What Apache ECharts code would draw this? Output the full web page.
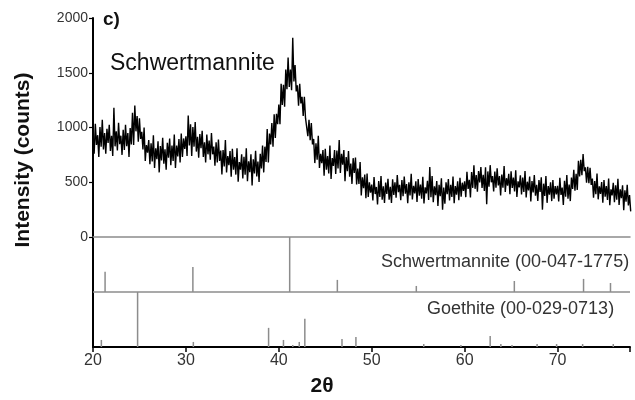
<!DOCTYPE html>
<html>
<head>
<meta charset="utf-8">
<script src="https://cdn.jsdelivr.net/npm/echarts@6/dist/echarts.min.js"></script>
<style>html,body{margin:0;padding:0;background:#fff}#c{width:635px;height:400px}</style>
</head>
<body>
<div id="c"></div>
<script>
// Scan: 2θ from 20.00 in steps of 0.25; at each step the upper and lower
// excursions of the noisy trace
const scanStart = 20.0;
const scanStep = 0.25;
const upperTrace = [
  940, 1035, 930, 1005,    // 20
  1070, 950, 988, 1025,    // 21
  925, 1180, 965, 1042,    // 22
  925, 980, 1025, 950,     // 23
  995, 1135, 1200, 1105,   // 24
  1085, 960, 1000, 840,    // 25
  885, 855, 930, 810,      // 26
  875, 830, 905, 800,      // 27
  860, 900, 835, 935,      // 28
  835, 895, 945, 900,      // 29
  920, 1110, 1030, 1005,   // 30
  1050, 915, 940, 970,     // 31
  865, 935, 880, 950,      // 32
  825, 865, 890, 790,      // 33
  795, 885, 740, 785,      // 34
  805, 730, 810, 685,      // 35
  755, 733, 810, 692,      // 36
  755, 710, 787, 688,      // 37
  760, 835, 825, 985,      // 38
  945, 1040, 1120, 1125,   // 39
  1210, 1400, 1390, 1530,  // 40
  1640, 1530, 1820, 1570,  // 41
  1385, 1400, 1280, 1280,  // 42
  1095, 1070, 1040, 895,   // 43
  855, 925, 760, 795,      // 44
  805, 740, 835, 720,      // 45
  795, 790, 885, 760,      // 46
  795, 730, 785, 670,      // 47
  720, 725, 625, 685,      // 48
  545, 570, 580, 500,      // 49
  478, 548, 457, 510,      // 50
  556, 462, 497, 532,      // 51
  458, 528, 499, 566,      // 52
  476, 520, 552, 484,      // 53
  500, 578, 467, 508,      // 54
  530, 478, 550, 454,      // 55
  514, 640, 557, 462,      // 56
  512, 476, 536, 452,      // 57
  500, 530, 477, 552,      // 58
  466, 509, 541, 496,      // 59
  508, 595, 522, 593,      // 60
  656, 565, 602, 639,      // 61
  568, 636, 599, 656,      // 62
  556, 598, 627, 556,      // 63
  570, 648, 537, 578,      // 64
  600, 543, 610, 509,      // 65
  564, 543, 602, 505,      // 66
  552, 511, 566, 477,      // 67
  520, 546, 487, 556,      // 68
  466, 500, 521, 466,      // 69
  468, 540, 452, 513,      // 70
  566, 480, 542, 614,      // 71
  578, 696, 704, 758,      // 72
  636, 640, 632, 534,      // 73
  510, 580, 462, 501,      // 74
  520, 466, 535, 436,      // 75
  494, 473, 532, 435,      // 76
  472, 426, 476, 382       // 77
];
const lowerTrace = [
  760, 840, 730, 825,      // 20
  800, 760, 858, 785,      // 21
  740, 828, 790, 847,      // 22
  750, 795, 830, 730,      // 23
  845, 840, 965, 870,      // 24
  895, 800, 695, 770,      // 25
  665, 690, 630, 710,      // 26
  590, 700, 670, 615,      // 27
  725, 655, 695, 630,      // 28
  735, 680, 730, 805,      // 29
  740, 835, 740, 825,      // 30
  780, 725, 810, 730,      // 31
  680, 755, 705, 755,      // 32
  650, 680, 695, 570,      // 33
  645, 590, 655, 550,      // 34
  615, 570, 505, 615,      // 35
  535, 568, 510, 592,      // 36
  470, 580, 552, 503,      // 37
  625, 590, 685, 680,      // 38
  845, 825, 905, 1030,     // 39
  1030, 1205, 1190, 1350,  // 40
  1370, 1340, 1420, 1330,  // 41
  1200, 1220, 1105, 1085,  // 42
  920, 885, 845, 675,      // 43
  705, 630, 675, 560,      // 44
  615, 580, 530, 650,      // 45
  575, 625, 585, 660,      // 46
  510, 600, 550, 485,      // 47
  585, 480, 485, 380,      // 48
  445, 355, 365, 405,      // 49
  334, 392, 297, 366,      // 50
  340, 310, 393, 340,      // 51
  310, 384, 359, 410,      // 52
  336, 372, 396, 308,      // 53
  380, 342, 399, 320,      // 54
  378, 350, 306, 398,      // 55
  338, 364, 317, 382,      // 56
  284, 372, 250, 304,      // 57
  392, 334, 365, 308,      // 58
  386, 337, 369, 420,      // 59
  364, 439, 362, 449,      // 60
  440, 413, 498, 447,      // 61
  420, 300, 459, 500,      // 62
  416, 450, 471, 380,      // 63
  450, 412, 469, 390,      // 64
  448, 415, 366, 453,      // 65
  388, 411, 362, 425,      // 66
  324, 407, 378, 329,      // 67
  412, 250, 375, 312,      // 68
  386, 328, 349, 390,      // 69
  324, 384, 292, 369,      // 70
  350, 328, 438, 422,      // 71
  430, 552, 564, 602,      // 72
  496, 492, 476, 358,      // 73
  390, 344, 394, 313,      // 74
  368, 338, 291, 380,      // 75
  318, 341, 292, 355,      // 76
  244, 322, 288, 234       // 77
];

// Reference pattern sticks: angle and height above their own baseline
const schwAngles  = [21.3, 30.75, 41.17, 46.3, 54.8, 65.35, 72.8, 75.7];
const schwHeights = [183, 228, 500, 110, 55, 100, 119, 82];   // baseline -500
const goetAngles  = [20.9, 24.8, 30.8, 38.9, 40.5, 41.5, 42.2, 42.8, 46.8, 48.3, 55.6, 59.6, 62.75, 63.9, 65.1, 67.8, 69.9, 72.7, 76.0];
const goetHeights = [64, 500, 46, 174, 64, 18, 46, 256, 73, 91, 27, 18, 100, 27, 18, 27, 27, 27, 27]; // baseline -1000

const yTicks = [0, 500, 1000, 1500, 2000];
const xTicks = [20, 30, 40, 50, 60, 70];

const schwBase = -500, goetBase = -1000;
const FONT = '"Liberation Sans", Arial, Helvetica, sans-serif';

const scanData = [];
upperTrace.forEach((v, i) => {
  const x = scanStart + i * scanStep;
  scanData.push([x, v]);
  scanData.push([x + scanStep / 2, lowerTrace[i]]);
});
const schwData = schwAngles.map((a, i) => [a, schwBase, schwBase + schwHeights[i]]);
const goetData = goetAngles.map((a, i) => [a, goetBase, goetBase + goetHeights[i]]);

const chart = echarts.init(document.getElementById('c'), null, {renderer: 'canvas'});

function stickItem(params, api) {
  const p1 = api.coord([api.value(0), api.value(1)]);
  const p2 = api.coord([api.value(0), api.value(2)]);
  return {type: 'line', shape: {x1: p1[0], y1: p1[1], x2: p2[0], y2: p2[1]},
          style: {stroke: '#8c8c8c', lineWidth: 1.5}};
}

chart.setOption({
  animation: false,
  backgroundColor: '#fff',
  grid: [
    {left: 93, top: 18, width: 537, height: 219},
    {left: 93, top: 237, width: 537, height: 110}
  ],
  xAxis: [
    {type: 'value', gridIndex: 0, min: 20, max: 77.8, interval: 10,
     axisLine: {show: true, onZero: false, lineStyle: {color: '#8c8c8c', width: 1.5}},
     axisTick: {show: false}, axisLabel: {show: false}, splitLine: {show: false}},
    {type: 'value', gridIndex: 1, min: 20, max: 77.8, interval: 10,
     axisLine: {show: true, onZero: false, lineStyle: {color: '#000', width: 2}},
     axisTick: {show: true, length: 5, lineStyle: {color: '#000', width: 1.5}},
     axisLabel: {show: true, fontFamily: FONT, fontSize: 16, color: '#333', margin: 6,
                 formatter: v => (xTicks.indexOf(Math.round(v * 1000) / 1000) >= 0 ? String(v) : '')},
     splitLine: {show: false}}
  ],
  yAxis: [
    {type: 'value', gridIndex: 0, min: 0, max: 2000, interval: 500,
     axisLine: {show: true, onZero: false, lineStyle: {color: '#000', width: 2}},
     axisTick: {show: true, length: 4, lineStyle: {color: '#000', width: 1.2}},
     axisLabel: {fontFamily: FONT, fontSize: 14, color: '#333', margin: 5,
                 formatter: v => (yTicks.indexOf(v) >= 0 ? String(v) : '')},
     splitLine: {show: false}},
    {type: 'value', gridIndex: 1, min: -1000, max: 0, interval: 500,
     axisLine: {show: true, onZero: false, lineStyle: {color: '#000', width: 2}},
     axisTick: {show: false}, axisLabel: {show: false}, splitLine: {show: false}}
  ],
  series: [
    {type: 'line', xAxisIndex: 0, yAxisIndex: 0, data: scanData, showSymbol: false,
     sampling: null, lineStyle: {color: '#000', width: 1.4}, z: 5},
    {type: 'custom', xAxisIndex: 1, yAxisIndex: 1, data: schwData, renderItem: stickItem,
     encode: {x: 0, y: [1, 2]},
     markLine: {silent: true, symbol: 'none', label: {show: false},
                lineStyle: {color: '#8c8c8c', width: 1.5, type: 'solid'},
                data: [{yAxis: schwBase}]}},
    {type: 'custom', xAxisIndex: 1, yAxisIndex: 1, data: goetData, renderItem: stickItem,
     encode: {x: 0, y: [1, 2]}}
  ],
  graphic: [
    {type: 'text', left: 103, top: 10, style: {text: 'c)', font: 'bold 19px ' + FONT, fill: '#111'}},
    {type: 'text', x: 110, y: 75, style: {text: 'Schwertmannite', font: '23px ' + FONT, fill: '#111', textVerticalAlign: 'bottom'}},
    {type: 'text', x: 381, y: 271, style: {text: 'Schwertmannite (00-047-1775)', font: '18px ' + FONT, fill: '#333', textVerticalAlign: 'bottom'}},
    {type: 'text', x: 427, y: 318, style: {text: 'Goethite (00-029-0713)', font: '18px ' + FONT, fill: '#333', textVerticalAlign: 'bottom'}},
    {type: 'text', x: 322, y: 386, style: {text: '2θ', font: 'bold 21px ' + FONT, fill: '#111', textAlign: 'center', textVerticalAlign: 'middle'}},
    {type: 'text', x: 23, y: 160, rotation: Math.PI / 2,
     style: {text: 'Intensity (counts)', font: 'bold 21px ' + FONT, fill: '#111', textAlign: 'center', textVerticalAlign: 'middle'}}
  ]
});
</script>
</body>
</html>
